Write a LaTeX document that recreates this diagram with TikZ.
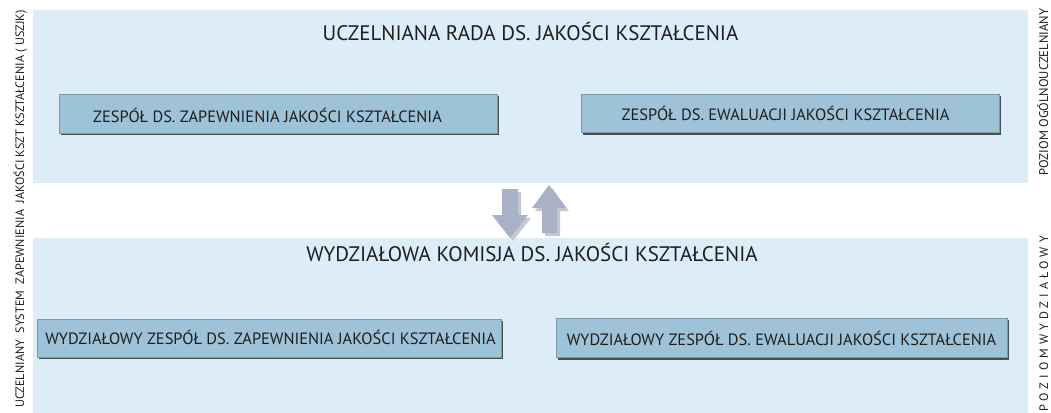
\documentclass[tikz,border=0pt]{standalone}
\usepackage{fontspec}
\setmainfont{PT Sans}
\definecolor{panelblue}{HTML}{DCEDF8}
\definecolor{boxblue}{HTML}{9EC3D8}
\definecolor{boxedge}{HTML}{7F98A8}
\definecolor{shadowc}{HTML}{4A4F55}
\definecolor{arrowc}{HTML}{A9B1C6}
\definecolor{arrowsh}{HTML}{C4C8D1}
\definecolor{txt}{HTML}{1E1E1E}
\tikzset{
  panel/.style={fill=panelblue, draw=none},
  boxshadow/.style={fill=shadowc, draw=none},
  unitbox/.style={fill=boxblue, draw=boxedge, line width=0.5pt, rectangle, inner sep=0pt},
  titletxt/.style={font=\fontsize{21}{25}\selectfont, text=txt, anchor=base, inner sep=0pt},
  boxtxt/.style={font=\fontsize{16.4}{19}\selectfont, text=txt, anchor=base, inner sep=0pt},
  sidetxt/.style={font=\fontsize{12.6}{15}\selectfont, text=txt, inner sep=0pt, rotate=90},
  arr/.style={fill=arrowc, draw=none},
  arrsh/.style={fill=arrowsh, draw=none}
}
\begin{document}
\begin{tikzpicture}[x=1pt, y=-1pt]
\useasboundingbox (0,0) rectangle (1051,412);
% panels
\fill[panel] (33,10) rectangle (1028,183);
\fill[panel] (33,238) rectangle (1028,420);
% titles
\node[titletxt] (t1) at (530.5,41) {UCZELNIANA RADA DS. JAKOŚCI KSZTAŁCENIA};
\node[titletxt] (t2) at (532,261) {WYDZIAŁOWA KOMISJA DS. JAKOŚCI KSZTAŁCENIA};
% boxes with shadow
\fill[boxshadow] (61,96) rectangle (499,135);
\node[unitbox, minimum width=438pt, minimum height=39pt] (b1) at (278,113.5) {};
\fill[boxshadow] (583,96) rectangle (1001,135);
\node[unitbox, minimum width=418pt, minimum height=38pt] (b2) at (790,113.5) {};
\fill[boxshadow] (39,321) rectangle (503,359);
\node[unitbox, minimum width=464pt, minimum height=38pt] (b3) at (269,338) {};
\fill[boxshadow] (558,320) rectangle (1009,360);
\node[unitbox, minimum width=451pt, minimum height=39pt] (b4) at (781.5,338) {};
% box texts
\node[boxtxt] (b1t) at (267.5,122.5) {ZESPÓŁ DS. ZAPEWNIENIA JAKOŚCI KSZTAŁCENIA};
\node[boxtxt] (b2t) at (785.5,120.5) {ZESPÓŁ DS. EWALUACJI JAKOŚCI KSZTAŁCENIA};
\node[boxtxt] (b3t) at (270.5,344.5) {WYDZIAŁOWY ZESPÓŁ DS. ZAPEWNIENIA JAKOŚCI KSZTAŁCENIA};
\node[boxtxt] (b4t) at (781.5,345) {WYDZIAŁOWY ZESPÓŁ DS. EWALUACJI JAKOŚCI KSZTAŁCENIA};
% arrows (shadows first)
\fill[arrsh] (505,192) -- (521,192) -- (521,218) -- (531,218) -- (513,241) -- (495,218) -- (505,218) -- cycle;
\fill[arr] (502,189) -- (518,189) -- (518,215) -- (528,215) -- (510,238) -- (492,215) -- (502,215) -- cycle;
\fill[arrsh] (545,236) -- (560,236) -- (560,211) -- (569,211) -- (552,188) -- (535,211) -- (545,211) -- cycle;
\fill[arr] (542,233) -- (557,233) -- (557,208) -- (566,208) -- (549,185) -- (532,208) -- (542,208) -- cycle;
% side texts
\node[sidetxt, anchor=south east, font=\fontsize{12.2}{15}\selectfont] (s1) at (27,10) {UCZELNIANY\ \ SYSTEM\ \ ZAPEWNIENIA\ \ JAKOŚCI KSZT KSZTAŁCENIA\ ( USZJK)};
\node[sidetxt, anchor=south] (s2) at (1048.5,92) {POZIOM OGÓLNOUCZELNIANY};
\node[sidetxt, anchor=south, font=\fontsize{12.2}{15}\selectfont\addfontfeature{LetterSpace=33}] (s3) at (1048.5,324) {POZIOMWYDZIAŁOWY};
\end{tikzpicture}
\end{document}
